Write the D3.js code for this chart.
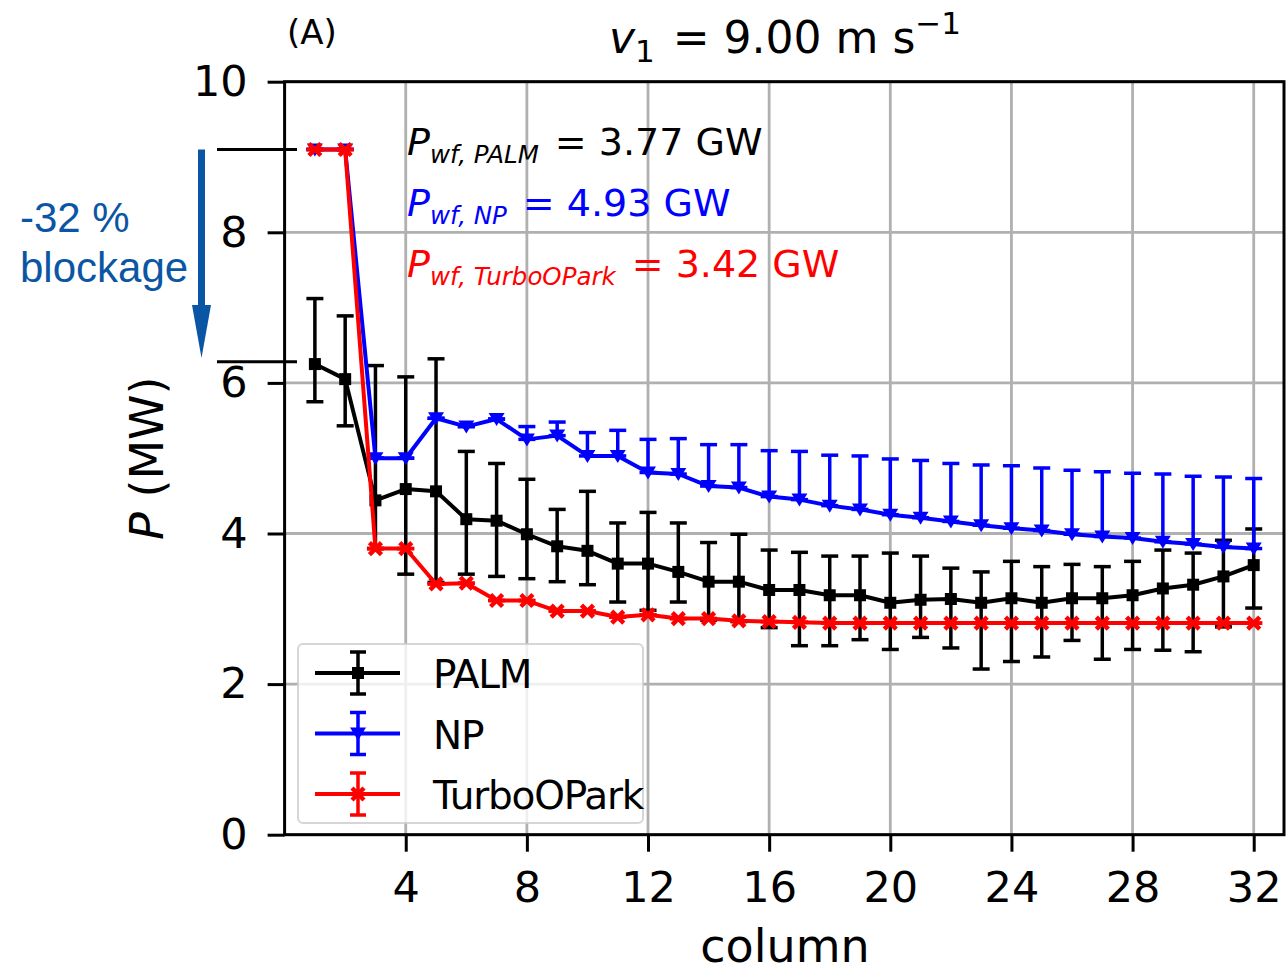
<!DOCTYPE html>
<html>
<head>
<meta charset="utf-8">
<script src="https://cdn.jsdelivr.net/npm/d3@7"></script>
<style>
  body { margin: 0; background: #ffffff; }
  text { font-family: "DejaVu Sans", sans-serif; }
</style>
</head>
<body>
<div class="visual-data"></div>
<script>
// chart values
const columns = [1, 2, 3, 4, 5, 6, 7, 8, 9, 10, 11, 12, 13, 14, 15, 16,
                 17, 18, 19, 20, 21, 22, 23, 24, 25, 26, 27, 28, 29, 30, 31, 32];
const palm = [6.25, 6.05, 4.44, 4.59, 4.56, 4.19, 4.17, 3.99, 3.83, 3.77, 3.60, 3.60, 3.49, 3.36, 3.36, 3.25,
              3.25, 3.18, 3.18, 3.08, 3.12, 3.13, 3.08, 3.14, 3.08, 3.14, 3.14, 3.18, 3.27, 3.32, 3.43, 3.58];
const palmHigh = [7.12, 6.89, 6.23, 6.08, 6.32, 5.09, 4.93, 4.72, 4.32, 4.56, 4.14, 4.28, 4.14, 3.88, 3.99, 3.78,
                  3.75, 3.70, 3.70, 3.74, 3.70, 3.54, 3.49, 3.63, 3.56, 3.59, 3.56, 3.63, 3.78, 3.74, 3.91, 4.06];
const palmLow = [5.75, 5.43, 3.80, 3.46, 3.35, 3.46, 3.43, 3.40, 3.36, 3.32, 3.09, 2.98, 3.09, 2.85, 2.83, 2.75,
                 2.51, 2.51, 2.59, 2.46, 2.62, 2.48, 2.20, 2.30, 2.36, 2.58, 2.33, 2.46, 2.45, 2.43, 2.76, 3.01];
const np = [9.10, 9.10, 5.00, 5.00, 5.53, 5.42, 5.52, 5.25, 5.30, 5.03, 5.03, 4.81, 4.79, 4.63, 4.61, 4.49,
            4.45, 4.37, 4.32, 4.25, 4.21, 4.16, 4.11, 4.07, 4.04, 3.99, 3.96, 3.94, 3.89, 3.86, 3.82, 3.80];
const npHigh = [9.10, 9.10, 5.00, 5.00, 5.53, 5.42, 5.52, 5.42, 5.48, 5.34, 5.37, 5.25, 5.26, 5.18, 5.18, 5.10,
                5.09, 5.04, 5.03, 4.99, 4.97, 4.93, 4.91, 4.90, 4.87, 4.84, 4.82, 4.80, 4.79, 4.76, 4.75, 4.73];
const turbo = [9.10, 9.10, 3.80, 3.80, 3.33, 3.34, 3.11, 3.11, 2.97, 2.97, 2.89, 2.92, 2.87, 2.87, 2.84, 2.83,
               2.82, 2.81, 2.81, 2.81, 2.81, 2.81, 2.81, 2.81, 2.81, 2.81, 2.81, 2.81, 2.81, 2.81, 2.81, 2.81];
const xTicks = [4, 8, 12, 16, 20, 24, 28, 32];
const yTicks = [0, 2, 4, 6, 8, 10];
const farmTotals = [["PALM", "3.77"], ["NP", "4.93"], ["TurboOPark", "3.42"]];
const blockageLevels = [9.1, 6.28];

const width = 1288;
const height = 974;
const plotLeft = 284.6, plotRight = 1284, plotTop = 81.7, plotBottom = 834.7;
const fontSize = 43;

var svg = d3.select(".visual-data")
            .append("svg")
            .attr("width", width)
            .attr("height", height)
            .style("background-color", "#FFFFFF");

const xScale = d3.scaleLinear().domain([0, 33]).range([plotLeft, plotRight]);
const yScale = d3.scaleLinear().domain([0, 10]).range([plotBottom, plotTop]);

// grid
svg.append("g").selectAll("line").data(xTicks).enter().append("line")
   .attr("x1", d => xScale(d)).attr("x2", d => xScale(d))
   .attr("y1", plotTop).attr("y2", plotBottom)
   .attr("stroke", "#b0b0b0").attr("stroke-width", 2.8);
svg.append("g").selectAll("line").data(yTicks).enter().append("line")
   .attr("x1", plotLeft).attr("x2", plotRight)
   .attr("y1", d => yScale(d)).attr("y2", d => yScale(d))
   .attr("stroke", "#b0b0b0").attr("stroke-width", 2.8);

// axes
const xAxis = svg.append("g")
   .attr("transform", "translate(0," + plotBottom + ")")
   .call(d3.axisBottom(xScale).tickValues(xTicks).tickSize(17).tickSizeOuter(0).tickPadding(20));
const yAxis = svg.append("g")
   .attr("transform", "translate(" + plotLeft + ",0)")
   .call(d3.axisLeft(yScale).tickValues(yTicks).tickSize(17).tickSizeOuter(0).tickPadding(20));
[xAxis, yAxis].forEach(a => {
  a.select(".domain").remove();
  a.selectAll(".tick line").attr("stroke", "#000").attr("stroke-width", 3);
  a.selectAll(".tick text").attr("fill", "#000")
   .style("font-family", "DejaVu Sans").style("font-size", fontSize + "px");
});

// spines
svg.append("rect")
   .attr("x", plotLeft).attr("y", plotTop)
   .attr("width", plotRight - plotLeft).attr("height", plotBottom - plotTop)
   .attr("fill", "none").attr("stroke", "#000").attr("stroke-width", 3);

// markers
function drawMarker(g, kind, color, x, y) {
  if (kind === "square") {
    g.append("rect").attr("x", x - 6).attr("y", y - 6).attr("width", 12).attr("height", 12).attr("fill", color);
  } else if (kind === "tri") {
    g.append("path").attr("d", `M${x - 8},${y - 6} L${x + 8},${y - 6} L${x},${y + 7} Z`).attr("fill", color);
  } else {
    g.append("path").attr("d", `M${x - 6},${y - 6} L${x + 6},${y + 6} M${x - 6},${y + 6} L${x + 6},${y - 6}`)
     .attr("stroke", color).attr("stroke-width", 4.5);
  }
}

const series = [
  {name: "PALM", color: "#000000", values: palm, hi: palmHigh, lo: palmLow, marker: "square"},
  {name: "NP", color: "#0000ff", values: np, hi: npHigh, lo: np, marker: "tri"},
  {name: "TurboOPark", color: "#ff0000", values: turbo, hi: turbo, lo: turbo, marker: "x"}
];

const line = d3.line().x((d, i) => xScale(columns[i])).y(d => yScale(d));

series.forEach(s => {
  const g = svg.append("g");
  g.append("path").datum(s.values)
   .attr("d", line).attr("fill", "none")
   .attr("stroke", s.color).attr("stroke-width", 4).attr("stroke-linejoin", "round");
  columns.forEach((c, i) => {
    const x = xScale(c);
    g.append("line").attr("x1", x).attr("x2", x)
     .attr("y1", yScale(s.lo[i])).attr("y2", yScale(s.hi[i]))
     .attr("stroke", s.color).attr("stroke-width", 3.5);
    [s.lo[i], s.hi[i]].forEach(v => {
      g.append("line").attr("x1", x - 8.5).attr("x2", x + 8.5)
       .attr("y1", yScale(v)).attr("y2", yScale(v))
       .attr("stroke", s.color).attr("stroke-width", 3.5);
    });
    drawMarker(g, s.marker, s.color, x, yScale(s.values[i]));
  });
});

// legend
const legend = svg.append("g");
legend.append("rect")
      .attr("x", 298).attr("y", 644).attr("width", 345).attr("height", 179).attr("rx", 5)
      .attr("fill", "#ffffff").attr("fill-opacity", 0.8)
      .attr("stroke", "#cccccc").attr("stroke-opacity", 0.8).attr("stroke-width", 2);
series.forEach((s, i) => {
  const y = 673 + i * 60.5;
  legend.append("line").attr("x1", 315).attr("x2", 400).attr("y1", y).attr("y2", y)
        .attr("stroke", s.color).attr("stroke-width", 4);
  legend.append("line").attr("x1", 358).attr("x2", 358).attr("y1", y - 21).attr("y2", y + 21)
        .attr("stroke", s.color).attr("stroke-width", 3.5);
  [y - 21, y + 21].forEach(v => legend.append("line").attr("x1", 350).attr("x2", 366)
        .attr("y1", v).attr("y2", v).attr("stroke", s.color).attr("stroke-width", 3.5));
  drawMarker(legend, s.marker, s.color, 358, y);
  legend.append("text").attr("x", 433).attr("y", y + 15)
        .style("font-size", "39px").style("letter-spacing", "-1.2px")
        .attr("fill", "#000").text(s.name);
});

// farm power annotations
farmTotals.forEach((d, i) => {
  const t = svg.append("text").attr("x", 407).attr("y", 155 + i * 61)
               .attr("fill", series[i].color).style("font-size", "38px");
  t.append("tspan").style("font-style", "italic").text("P");
  t.append("tspan").style("font-style", "italic").style("font-size", "24.5px").attr("dy", 8).text("wf, " + d[0]);
  t.append("tspan").attr("dy", -8).attr("dx", 16).text("= " + d[1] + " GW");
});

// title and labels
const title = svg.append("text").attr("x", 785).attr("y", 53)
                 .attr("text-anchor", "middle").style("font-size", "44px").attr("fill", "#000");
title.append("tspan").style("font-style", "italic").text("v");
title.append("tspan").style("font-size", "31px").attr("dy", 9).text("1");
title.append("tspan").attr("dy", -9).attr("dx", 4).text(" = 9.00 m s");
title.append("tspan").style("font-size", "31px").attr("dy", -19).text("\u22121");

svg.append("text").attr("x", 287).attr("y", 44)
   .style("font-size", "34px").attr("fill", "#000").text("(A)");

svg.append("text").attr("x", 785).attr("y", 962)
   .attr("text-anchor", "middle").style("font-size", "46px").attr("fill", "#000").text("column");

const yLabel = svg.append("text")
   .attr("transform", "translate(163," + ((plotTop + plotBottom) / 2) + ") rotate(-90)")
   .attr("text-anchor", "middle").style("font-size", "46px").attr("fill", "#000");
yLabel.append("tspan").style("font-style", "italic").text("P");
yLabel.append("tspan").text(" (MW)");

// blockage annotation
svg.append("g").selectAll("line").data(blockageLevels).enter().append("line")
   .attr("x1", 217).attr("x2", 297)
   .attr("y1", d => yScale(d)).attr("y2", d => yScale(d))
   .attr("stroke", "#000").attr("stroke-width", 3);
const blue = "#0b56a4";
svg.append("line").attr("x1", 201.5).attr("x2", 201.5)
   .attr("y1", yScale(blockageLevels[0])).attr("y2", 308)
   .attr("stroke", blue).attr("stroke-width", 7);
svg.append("path").attr("d", "M192,305 L211,305 L201.5,358 Z").attr("fill", blue);
svg.append("text").attr("x", 20).attr("y", 232)
   .style("font-family", "Liberation Sans").style("font-size", "42px").attr("fill", blue).text("-32 %");
svg.append("text").attr("x", 20).attr("y", 282)
   .style("font-family", "Liberation Sans").style("font-size", "42px").attr("fill", blue).text("blockage");
</script>
</body>
</html>
